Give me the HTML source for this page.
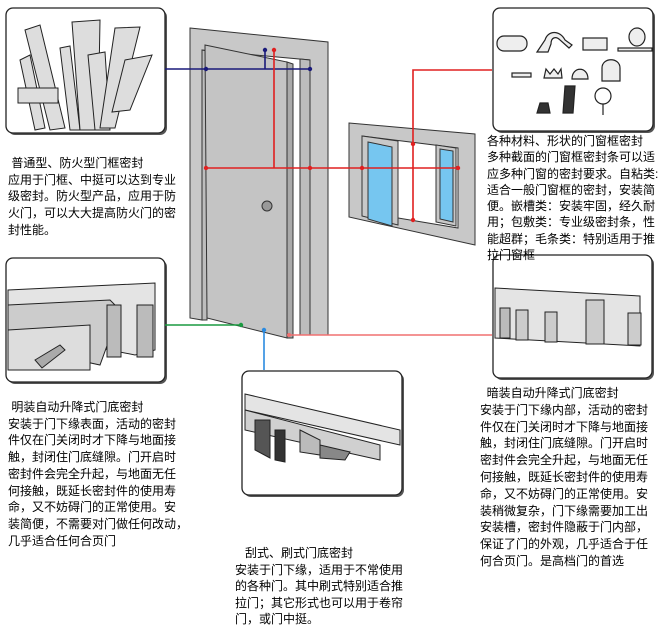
<!DOCTYPE html>
<html><head><meta charset="utf-8"><style>
html,body{margin:0;padding:0;background:#fff;}
body{width:660px;height:630px;position:relative;overflow:hidden;font-family:"Liberation Sans","Noto Sans CJK SC","WenQuanYi Zen Hei",sans-serif;font-size:12px;color:#000;}
.t{position:absolute;white-space:pre;line-height:16.7px;}
svg{position:absolute;left:0;top:0;}
</style></head><body>
<svg width="660" height="630" viewBox="0 0 660 630">
<g stroke="#222" stroke-width="1.3" fill="#fff">
<rect x="8" y="10" width="159" height="125" rx="7" fill="#555" stroke="none"/>
<rect x="6" y="8" width="159" height="125" rx="7"/>
<rect x="495" y="10" width="160" height="123" rx="7" fill="#555" stroke="none"/>
<rect x="493" y="8" width="160" height="123" rx="7"/>
<rect x="8" y="260" width="159" height="124" rx="7" fill="#555" stroke="none"/>
<rect x="6" y="258" width="159" height="124" rx="7"/>
<rect x="495" y="257" width="159" height="123" rx="7" fill="#555" stroke="none"/>
<rect x="493" y="255" width="159" height="123" rx="7"/>
<rect x="244" y="373" width="160" height="124" rx="7" fill="#555" stroke="none"/>
<rect x="242" y="371" width="160" height="124" rx="7"/>
</g>
<g stroke="#222" stroke-width="1" fill="#ddd">
<polygon points="25,30 40,25 65,128 50,130"/>
<polygon points="20,60 30,55 45,128 35,130"/>
<polygon points="60,48 70,46 80,130 70,130"/>
<polygon points="72,22 100,20 98,130 80,130"/>
<polygon points="88,55 105,52 110,130 95,130"/>
<polygon points="115,28 140,27 115,128 100,128"/>
<polygon points="125,60 152,55 130,110 112,112"/>
<rect x="18" y="88" width="40" height="15"/>
</g>
<g stroke="#222" stroke-width="1.2" fill="#eee">
<rect x="497" y="36" width="30" height="15" rx="7"/>
<path d="M537,52 L545,40 C548,30 560,30 565,40 L572,45 L569,48 L560,40 C556,36 551,37 551,44 L548,52 Z"/>
<rect x="583" y="38" width="24" height="12"/>
<ellipse cx="637" cy="37" rx="8" ry="9"/><rect x="618" y="48" width="34" height="3"/>
<rect x="512" y="73" width="19" height="4"/>
<path d="M544,78 L546,69 L550,74 L554,69 L558,74 L561,69 L562,78 Z"/>
<path d="M572,79 C572,66 588,66 588,79 Z"/>
<path d="M602,81 L602,68 C602,57 620,57 620,68 L620,81 Z"/>
<path d="M537,113 L540,103 L548,103 L550,113 Z" fill="#333"/>
<path d="M563,113 L565,86 L575,86 L573,113 Z" fill="#333"/>
<circle cx="603" cy="96" r="8" fill="#fff"/><line x1="603" y1="104" x2="603" y2="115"/>
</g>
<g stroke="#222" stroke-width="1" fill="#e4e4e4">
<polygon points="8,290 155,283 155,350 135,355 8,330"/>
<polygon points="8,305 110,300 120,310 100,365 8,345" fill="#ccc"/>
<polygon points="8,330 90,325 90,370 8,370" fill="#ddd"/>
<rect x="107" y="305" width="14" height="52" fill="#bbb"/>
<rect x="137" y="305" width="16" height="52" fill="#bbb"/>
<polygon points="35,360 60,345 65,350 42,368" fill="#aaa"/>
</g>
<g stroke="#222" stroke-width="1" fill="#e4e4e4">
<polygon points="495,288 640,296 640,346 495,338"/>
<rect x="500" y="308" width="10" height="30" fill="#bbb"/>
<rect x="516" y="310" width="12" height="30" fill="#ccc"/>
<rect x="545" y="312" width="12" height="30" fill="#ccc"/>
<rect x="586" y="300" width="18" height="44" fill="#ccc"/>
<rect x="628" y="313" width="13" height="32" fill="#ccc"/>
</g>
<g stroke="#222" stroke-width="1" fill="#e4e4e4">
<polygon points="245,394 400,430 400,445 245,410"/>
<polygon points="245,410 380,445 380,460 245,430" fill="#d0d0d0"/>
<polygon points="255,420 270,420 270,458 255,450" fill="#555"/>
<polygon points="275,430 285,430 285,462 275,460" fill="#333"/>
<polygon points="300,430 320,440 320,455 300,452" fill="#bbb"/>
<polygon points="320,445 350,452 345,460 320,458" fill="#888"/>
</g>
<!-- Door frame -->
<g stroke="#333" stroke-width="1">
<polygon points="190,28 328,42 328,335 310,335 310,60 202,50 202,320 190,318" fill="#c8c8c8"/>
<polygon points="202,50 207,51 207,320 202,320" fill="#bdbdbd"/>
<polygon points="300,59 310,60 310,335 300,335" fill="#bdbdbd"/>
<polygon points="205,45 287,62 287,338 207,318" fill="#c4c4c4"/>
<polygon points="287,62 293,64 293,338 287,338" fill="#aaa"/>
<circle cx="267" cy="206" r="5" fill="#999" stroke="#333"/>
</g>
<g stroke="#333" stroke-width="1">
<polygon points="349,123 475,134 475,245 349,217" fill="#c8c8c8"/>
<polygon points="362,136 458,148 458,228 362,212" fill="#fff"/>
<polygon points="362,136 398,141 398,225 362,216" fill="#c8c8c8"/>
<polygon points="368,142 392,147 392,226 368,219" fill="#76c6f0"/>
<polygon points="436,145 456,148 456,226 436,222" fill="#c8c8c8"/>
<polygon points="440,149 453,151 453,222 440,219" fill="#76c6f0"/>
</g>
<g fill="none" stroke-width="1.6">
<path d="M165,69 H310 M265,69 V50" stroke="#1a1a7a"/>
<path d="M274,50 V168 M206,168 H458" stroke="#e02020"/>
<path d="M492,70 H413 V220" stroke="#e02020"/>
<path d="M289,335 H492" stroke="#f07070"/>
<path d="M165,325 H241" stroke="#1a9a40"/>
<path d="M264,330 V370" stroke="#2a8ae0"/>
</g>
<g>
<circle cx="206" cy="69" r="2.2" fill="#1a1a7a"/><circle cx="310" cy="69" r="2.2" fill="#1a1a7a"/><circle cx="265" cy="50" r="2.2" fill="#1a1a7a"/>
<circle cx="274" cy="50" r="2.2" fill="#e02020"/><circle cx="206" cy="168" r="2.2" fill="#e02020"/><circle cx="310" cy="168" r="2.2" fill="#e02020"/>
<circle cx="362" cy="168" r="2.2" fill="#e02020"/><circle cx="458" cy="168" r="2.2" fill="#e02020"/>
<circle cx="413" cy="144" r="2.2" fill="#e02020"/><circle cx="413" cy="220" r="2.2" fill="#e02020"/>
<circle cx="241" cy="325" r="2.2" fill="#1a9a40"/><circle cx="264" cy="330" r="2.2" fill="#2a8ae0"/>
<circle cx="289" cy="335" r="2" fill="#f07070"/>
</g>
</svg>
<div class="t" style="left:8px;top:155px;"> 普通型、防火型门框密封
应用于门框、中挺可以达到专业
级密封。防火型产品，应用于防
火门，可以大大提高防火门的密
封性能。</div>
<div class="t" style="left:487px;top:133px;line-height:16.3px;">各种材料、形状的门窗框密封
多种截面的门窗框密封条可以适
应多种门窗的密封要求。自粘类:
适合一般门窗框的密封，安装简
便。嵌槽类：安装牢固，经久耐
用；包敷类：专业级密封条，性
能超群；毛条类：特别适用于推
拉门窗框</div>
<div class="t" style="left:8px;top:399px;"> 明装自动升降式门底密封
安装于门下缘表面，活动的密封
件仅在门关闭时才下降与地面接
触，封闭住门底缝隙。门开启时
密封件会完全升起，与地面无任
何接触，既延长密封件的使用寿
命，又不妨碍门的正常使用。安
装简便，不需要对门做任何改动，
几乎适合任何合页门</div>
<div class="t" style="left:480px;top:385px;line-height:16.8px;">  暗装自动升降式门底密封
安装于门下缘内部，活动的密封
件仅在门关闭时才下降与地面接
触，封闭住门底缝隙。门开启时
密封件会完全升起，与地面无任
何接触，既延长密封件的使用寿
命，又不妨碍门的正常使用。安
装稍微复杂，门下缘需要加工出
安装槽，密封件隐蔽于门内部，
保证了门的外观，几乎适合于任
何合页门。是高档门的首选</div>
<div class="t" style="left:235px;top:545px;line-height:16.5px;">   刮式、刷式门底密封
安装于门下缘，适用于不常使用
的各种门。其中刷式特别适合推
拉门；其它形式也可以用于卷帘
门，或门中挺。</div>
</body></html>
